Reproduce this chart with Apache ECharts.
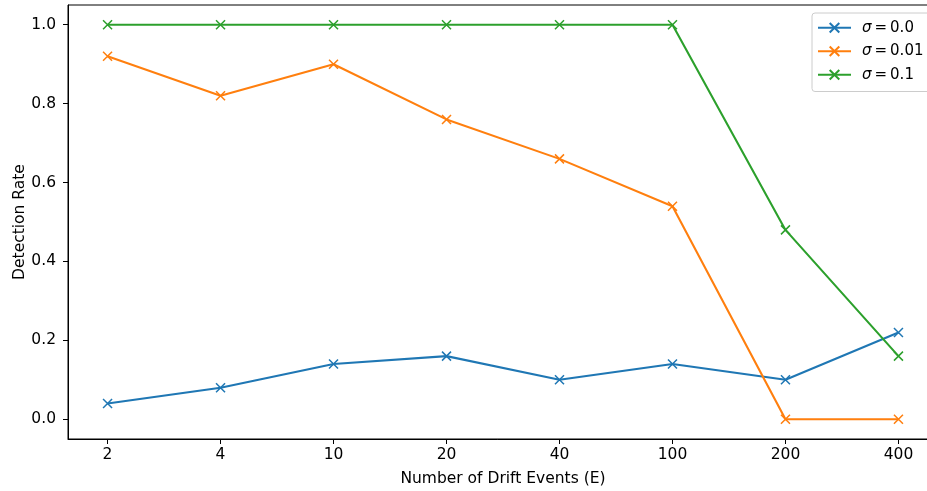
<!DOCTYPE html>
<html><head><meta charset="utf-8">
<script src="https://cdn.jsdelivr.net/npm/echarts@6/dist/echarts.min.js"></script>
<style>html,body{margin:0;padding:0;background:#fff}#c{width:927px;height:491px}</style>
</head><body><div id="c"></div>
<script>
const categories = ['2','4','10','20','40','100','200','400'];
const sigma00 = [0.04,0.08,0.14,0.16,0.10,0.14,0.10,0.22];
const sigma001 = [0.92,0.82,0.90,0.76,0.66,0.54,0.00,0.00];
const sigma01 = [1.0,1.0,1.0,1.0,1.0,1.0,0.48,0.16];
const yTicks = [0.0,0.2,0.4,0.6,0.8,1.0];
const seriesNames = ['σ = 0.0','σ = 0.01','σ = 0.1'];
const colors = ['#1f77b4','#ff7f0e','#2ca02c'];

const chart = echarts.init(document.getElementById('c'), null, {renderer:'canvas'});
const font = 'DejaVu Sans';
const fs = 15.5;
const xIdx = categories.map((_,i)=>i);
function mk(name, vals, color){
  return {
    name, type:'line', data: vals.map((v,i)=>[i,v]),
    symbol:'path://M0 0L10 10M10 0L0 10', symbolSize:9,
    lineStyle:{color, width:2.1},
    itemStyle:{color:'rgba(0,0,0,0)', borderColor:color, borderWidth:1.5},
    emphasis:{disabled:true}, animation:false
  };
}
chart.setOption({
  animation:false,
  color: colors,
  grid:{left:68, top:5, width:870, height:434, containLabel:false, outerBoundsMode:'none', show:true, borderColor:'#000', borderWidth:1, backgroundColor:'transparent'},
  legend:{
    orient:'vertical', left:812, top:13, itemWidth:33, itemHeight:12, itemGap:6,
    padding:[6,8,8,5], backgroundColor:'rgba(255,255,255,0.8)', borderColor:'#cccccc', borderWidth:1, borderRadius:3,
    data: seriesNames,
    formatter: n => '{s|σ}\u2009=\u20090' + n.slice(5),
    textStyle:{fontFamily:font, fontSize:15, color:'#000', padding:[0,0,0,6], lineHeight:17.5,
      rich:{s:{fontFamily:font, fontSize:15, fontStyle:'italic', color:'#000', lineHeight:17.5}}}
  },
  xAxis:{
    type:'value', min:-0.35, max:7.35,
    name:'Number of Drift Events (E)', nameLocation:'middle', nameGap:32, nameMoveOverlap:false,
    nameTextStyle:{fontFamily:font, fontSize:fs, color:'#000'},
    axisLine:{show:true, onZero:false, lineStyle:{color:'#000', width:1}},
    axisTick:{show:true, length:5, lineStyle:{color:'#000'}, customValues:xIdx},
    axisLabel:{fontFamily:font, fontSize:fs, color:'#000', margin:8, customValues:xIdx, formatter:v=>categories[Math.round(v)]},
    splitLine:{show:false}
  },
  yAxis:{
    type:'value', min:-0.05, max:1.05,
    name:'Detection Rate', nameLocation:'middle', nameGap:40, nameRotate:90, nameMoveOverlap:false,
    nameTextStyle:{fontFamily:font, fontSize:fs, color:'#000'},
    axisLine:{show:true, onZero:false, lineStyle:{color:'#000', width:1}},
    axisTick:{show:true, length:5, lineStyle:{color:'#000'}, customValues:yTicks},
    axisLabel:{fontFamily:font, fontSize:fs, color:'#000', margin:12, customValues:yTicks, formatter:v=>v.toFixed(1)},
    splitLine:{show:false}
  },
  series:[mk(seriesNames[0],sigma00,colors[0]), mk(seriesNames[1],sigma001,colors[1]), mk(seriesNames[2],sigma01,colors[2])]
});
</script></body></html>
